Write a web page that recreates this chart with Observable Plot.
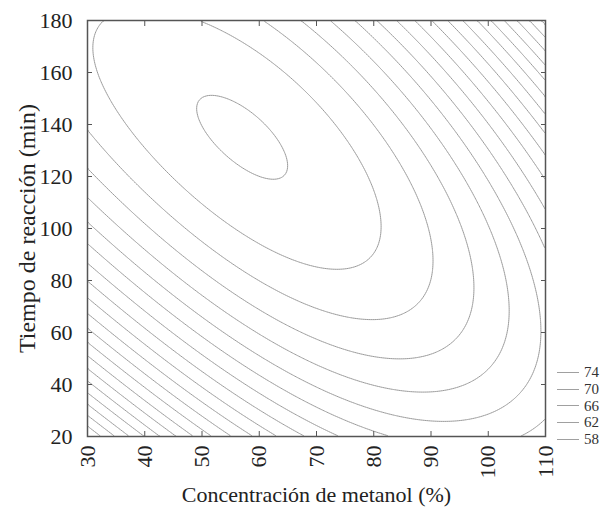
<!DOCTYPE html>
<html><head><meta charset="utf-8">
<script src="https://cdn.jsdelivr.net/npm/d3@7"></script>
<script src="https://cdn.jsdelivr.net/npm/@observablehq/plot@0.6"></script>
<style>
body{margin:0;background:#fff;}
#wrap{position:relative;width:605px;height:509px;}
#legend{position:absolute;left:557px;top:364px;font-family:"Liberation Serif",serif;font-size:15px;color:#333;}
.item{display:flex;align-items:center;height:16.8px;}
.item .l{display:inline-block;width:22px;height:0;border-top:1px solid #a0a0a0;margin-right:5px;}
</style></head><body><div id="wrap"><div id="legend"></div></div>
<script>
// axis ticks
const xTicks = [30, 40, 50, 60, 70, 80, 90, 100, 110];
const yTicks = [20, 40, 60, 80, 100, 120, 140, 160, 180];
const legendLevels = [74, 70, 66, 62, 58];
const thresholds = [74, 72, 70, 68, 66, 64, 62, 60, 58, 56, 54, 52, 50, 48, 46, 44, 42, 40, 38, 36, 34, 32, 30];

// contour crossings: [level, position]
const topEdge = [[72,32.1],[72,50.1],[70,60.4],[68,67.2],[66,71.9],[64,76.5],[62,80.3],[60,84.0],[58,87.1],[56,90.1],[54,92.9],[52,95.9],[50,98.5],[48,100.7],[46,103.2],[44,105.1],[42,107.6],[40,109.3]]; // t = 180
const leftEdge = [[70,138.3],[68,123.6],[66,112.0],[64,101.8],[62,94.7],[60,87.7],[58,80.7],[56,73.6],[54,67.8],[52,62.0],[50,56.3],[48,51.2],[46,46.0],[44,40.9],[42,35.8],[40,31.3],[38,26.8],[36,22.3]]; // x = 30
const bottomEdge = [[62,83.3],[62,105.7],[60,74.6],[58,67.0],[56,62.5],[54,58.6],[52,54.8],[50,51.7],[48,48.3],[46,45.5],[44,43.0],[42,40.3],[40,37.9],[38,35.4],[36,33.3],[34,30.6]]; // t = 20
const rightEdge = [[62,91.5],[62,26.9],[60,111.5],[58,121.5],[56,129.6],[54,136.9],[52,143.5],[50,149.6],[48,155.8],[46,161.9],[44,167.3],[42,172.7],[40,177.7]]; // x = 110
// interior contour points: [x, t, level]
const interior = [
  [51.0,153.5,74],[57.9,145.4,74],[63.4,133.1,74],[64.2,121.5,74],[59.3,118.5,74],[53.6,128.1,74],[48.9,137.7,74],[47.1,146.5,74],[55.6,135,74.5],
  [31.2,171.5,72],[31.7,161.9,72],[34.5,146.5,72],[39.3,131.2,72],[47.5,111.9,72],[55.5,99.2,72],[65.5,90.4,72],[67.2,86.5,72],[73.7,83.8,72],[77.7,86.5,72],[80.8,99.2,72],[67.2,153.1,72],[59.0,168.5,72],[55.5,173.5,72],
  [67.2,167.7,70],[89.6,99.2,70],[89.9,86.5,70],[88.2,71.5,70],[80.0,65.0,70],[67.2,72.0,70],
  [95.5,99.2,68],[97.4,76.2,68],[94.6,58.1,68],[86.4,50.0,68],[67.2,60.8,68],
  [100.4,99.2,66],[103.5,67.3,66],[101.6,50.4,66],[92.9,38.1,66],[67.2,50.8,66],
  [103.9,99.2,64],[108.8,60.8,64],[107.9,42.7,64],[99.9,29.2,64],[89.4,26.2,64],[67.2,41.5,64],
  [107.9,99.2,62],[67.2,35.0,62]
];

// response surface: least-squares quartic through the read points
const pts = [];
topEdge.forEach(([z, x]) => pts.push([x, 180, z]));
bottomEdge.forEach(([z, x]) => pts.push([x, 20, z]));
leftEdge.forEach(([z, t]) => pts.push([30, t, z]));
rightEdge.forEach(([z, t]) => pts.push([110, t, z]));
interior.forEach(p => pts.push(p));
const basis = (u, v) => [1, u, v, u*u, u*v, v*v, u*u*u, u*u*v, u*v*v, v*v*v, u*u*u*u, u*u*u*v, u*u*v*v, u*v*v*v, v*v*v*v];
const nb = 15;
const A = Array.from({length: nb}, () => new Array(nb).fill(0));
const B = new Array(nb).fill(0);
for (const [x, t, z] of pts) {
  const p = basis((x - 70) / 40, (t - 100) / 80);
  for (let i = 0; i < nb; i++) { B[i] += p[i] * z; for (let j = 0; j < nb; j++) A[i][j] += p[i] * p[j]; }
}
function solve(M, r) {
  const n = r.length, a = M.map((row, i) => [...row, r[i]]);
  for (let c = 0; c < n; c++) {
    let piv = c; for (let i = c + 1; i < n; i++) if (Math.abs(a[i][c]) > Math.abs(a[piv][c])) piv = i;
    [a[c], a[piv]] = [a[piv], a[c]];
    for (let i = c + 1; i < n; i++) { const f = a[i][c] / a[c][c]; for (let j = c; j <= n; j++) a[i][j] -= f * a[c][j]; }
  }
  const s = new Array(n).fill(0);
  for (let i = n - 1; i >= 0; i--) { let v = a[i][n]; for (let j = i + 1; j < n; j++) v -= a[i][j] * s[j]; s[i] = v / a[i][i]; }
  return s;
}
const coef = solve(A, B);
const surface = (x, t) => basis((x - 70) / 40, (t - 100) / 80).reduce((s, p, i) => s + p * coef[i], 0);

const chart = Plot.plot({
  width: 605, height: 509,
  marginLeft: 87, marginRight: 60, marginTop: 20, marginBottom: 73,
  x: {domain: [30, 110]},
  y: {domain: [20, 180]},
  style: {fontFamily: '"Liberation Serif", serif', fontSize: "22px", color: "#222", background: "#fff"},
  marks: [
    Plot.contour({value: surface, x1: 30, x2: 110, y1: 20, y2: 180, thresholds, stroke: "#9b9b9b", strokeWidth: 1, fill: "none"}),
    Plot.frame({stroke: "#555", strokeWidth: 1.5}),
    Plot.axisY(yTicks, {anchor: "left", tickSize: -5, tickPadding: 20, label: null, stroke: "#555"}),
    Plot.axisY(yTicks, {anchor: "right", tickSize: -5, tickFormat: () => "", label: null, stroke: "#555"}),
    Plot.axisX(xTicks, {anchor: "bottom", tickSize: -5, tickPadding: 14, tickRotate: -90, label: null, stroke: "#555"}),
    Plot.axisX(xTicks, {anchor: "top", tickSize: -5, tickFormat: () => "", label: null, stroke: "#555"}),
    Plot.text(["Concentración de metanol (%)"], {frameAnchor: "bottom", dy: 58, fontSize: 22, lineAnchor: "middle", textAnchor: "middle", fill: "#222"}),
    Plot.text(["Tiempo de reacción (min)"], {frameAnchor: "left", dx: -60, rotate: -90, fontSize: 24, lineAnchor: "middle", textAnchor: "middle", fill: "#222"})
  ]
});
document.getElementById("wrap").prepend(chart);
const lg = document.getElementById("legend");
for (const v of legendLevels) {
  const d = document.createElement("div"); d.className = "item";
  d.innerHTML = `<span class="l"></span><span>${v}</span>`;
  lg.appendChild(d);
}
</script></body></html>
